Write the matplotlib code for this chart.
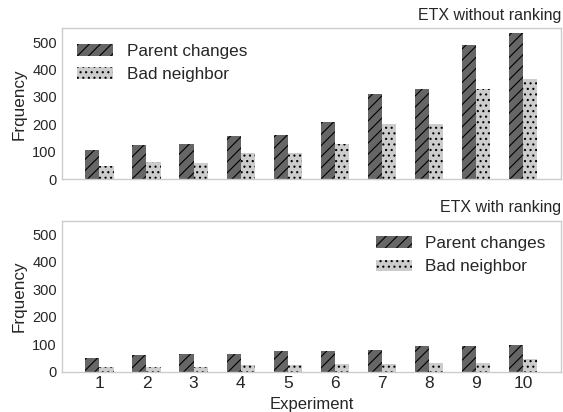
import numpy as np
import matplotlib
matplotlib.use('Agg')
import matplotlib.pyplot as plt

plt.style.use('seaborn-v0_8-whitegrid')
plt.rcParams['font.family'] = ['Liberation Sans', 'DejaVu Sans']
plt.rcParams['hatch.linewidth'] = 0.8

experiments = np.arange(1, 11)

# ETX without ranking
parent_no_rank = [107, 126, 129, 158, 162, 209, 309, 328, 488, 534]
bad_no_rank = [47, 64, 60, 94, 94, 129, 203, 203, 330, 367]

# ETX with ranking
parent_rank = [50, 61, 65, 65, 73, 73, 79, 94, 94, 98]
bad_rank = [15, 17, 17, 25, 25, 29, 29, 32, 32, 44]

width = 0.3

fig, axes = plt.subplots(2, 1, figsize=(5.63, 4.12), dpi=100)
fig.subplots_adjust(left=0.1096, right=0.9964, top=0.9313, bottom=0.0983, hspace=0.274)

panels = [
    (axes[0], parent_no_rank, bad_no_rank, 'ETX without ranking', 'upper left'),
    (axes[1], parent_rank, bad_rank, 'ETX with ranking', 'upper right'),
]

for ax, parent, bad, title, loc in panels:
    ax.bar(experiments - width/2, parent, width, color='#666666', edgecolor='black',
           linewidth=0, hatch='///', label='Parent changes')
    ax.bar(experiments + width/2, bad, width, color='#cccccc', edgecolor='black',
           linewidth=0, hatch='...', label='Bad neighbor')
    ax.set_xlim(0.2, 10.8)
    ax.set_ylim(0, 550)
    ax.set_yticks([0, 100, 200, 300, 400, 500])
    ax.set_xticks(experiments)
    ax.grid(False)
    ax.set_ylabel('Frquency', fontsize=12.3)
    ax.set_title(title, loc='right', fontsize=11.5)
    ax.tick_params(axis='y', labelsize=10.5)
    ax.tick_params(axis='x', labelsize=12.5)
    ax.legend(loc=loc, frameon=False, fontsize=12.3, handlelength=2.1)

axes[0].set_xticklabels([])
axes[1].set_xlabel('Experiment', fontsize=12)

plt.savefig('out.png', dpi=100)
plt.close()
